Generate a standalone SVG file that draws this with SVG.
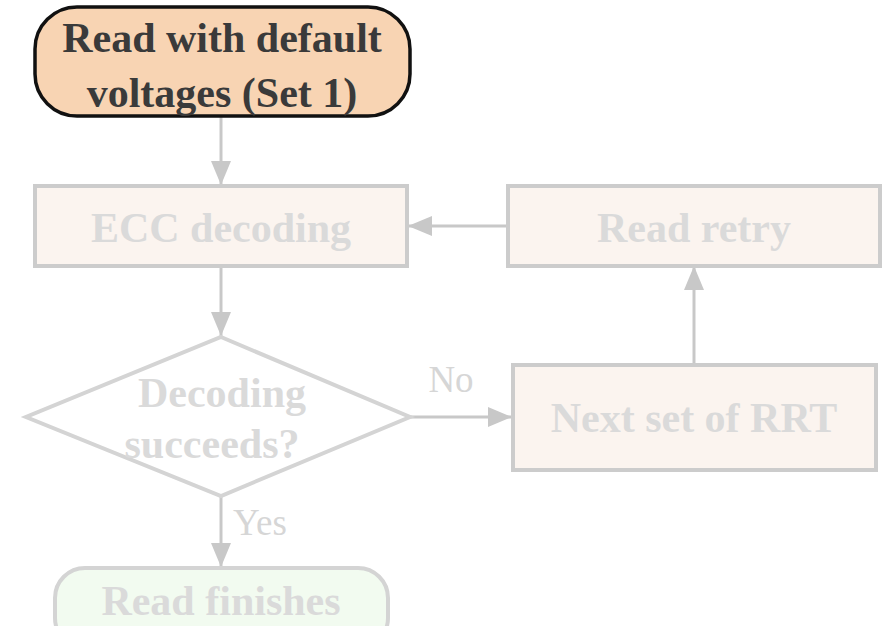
<svg xmlns="http://www.w3.org/2000/svg" width="888" height="626" viewBox="0 0 888 626">
<defs>
<marker id="ah" markerWidth="24" markerHeight="20" refX="24" refY="10" orient="auto" markerUnits="userSpaceOnUse">
<path d="M0,0 L24,10 L0,20 Z" fill="#c8c8c8"/>
</marker>
<style>
.t{font-family:"Liberation Serif","Times New Roman",serif;font-weight:bold;font-size:42px;text-anchor:middle}
.dim{fill:#dadada}
.box{fill:#fbf4ef;stroke:#cccccc;stroke-width:4}
.conn{stroke:#c8c8c8;stroke-width:3;fill:none;marker-end:url(#ah)}
.lbl{font-family:"Liberation Serif","Times New Roman",serif;font-size:37px;fill:#d6d6d6}
</style>
</defs>
<rect width="888" height="626" fill="#ffffff"/>
<g id="connectors">
<line class="conn" x1="221" y1="116" x2="221" y2="185"/>
<line class="conn" x1="221" y1="266" x2="221" y2="336"/>
<line class="conn" x1="410" y1="417" x2="512" y2="417"/>
<line class="conn" x1="694" y1="364" x2="694" y2="266"/>
<line class="conn" x1="507" y1="226" x2="408" y2="226"/>
<line class="conn" x1="221" y1="496" x2="221" y2="567"/>
<text class="lbl" x="451" y="392" text-anchor="middle">No</text>
<text class="lbl" x="233" y="535">Yes</text>
</g>
<g id="start">
<rect x="35" y="7" width="375" height="109" rx="42" ry="42" fill="#f8d4b3" stroke="#111111" stroke-width="3.5"/>
<text class="t" x="222" y="52" fill="#3a3a3a">Read with default</text>
<text class="t" x="222" y="107" fill="#3a3a3a">voltages (Set 1)</text>
</g>
<g id="ecc">
<rect class="box" x="35" y="186" width="372" height="80"/>
<text class="t dim" x="221" y="242">ECC decoding</text>
</g>
<g id="retry">
<rect class="box" x="508" y="186" width="372" height="80"/>
<text class="t dim" x="694" y="242">Read retry</text>
</g>
<g id="decision">
<polygon points="221,337 410,417 221,496 26,417" fill="#ffffff" stroke="#d4d4d4" stroke-width="4"/>
<text class="t dim" x="222" y="407">Decoding</text>
<text class="t dim" x="212" y="458">succeeds?</text>
</g>
<g id="next">
<rect class="box" x="513" y="365" width="363" height="105"/>
<text class="t dim" x="694" y="432">Next set of RRT</text>
</g>
<g id="finish">
<rect x="55" y="568" width="333" height="80" rx="30" ry="30" fill="#f2fbf0" stroke="#d4d4d4" stroke-width="4"/>
<text class="t dim" x="221" y="615">Read finishes</text>
</g>
</svg>
